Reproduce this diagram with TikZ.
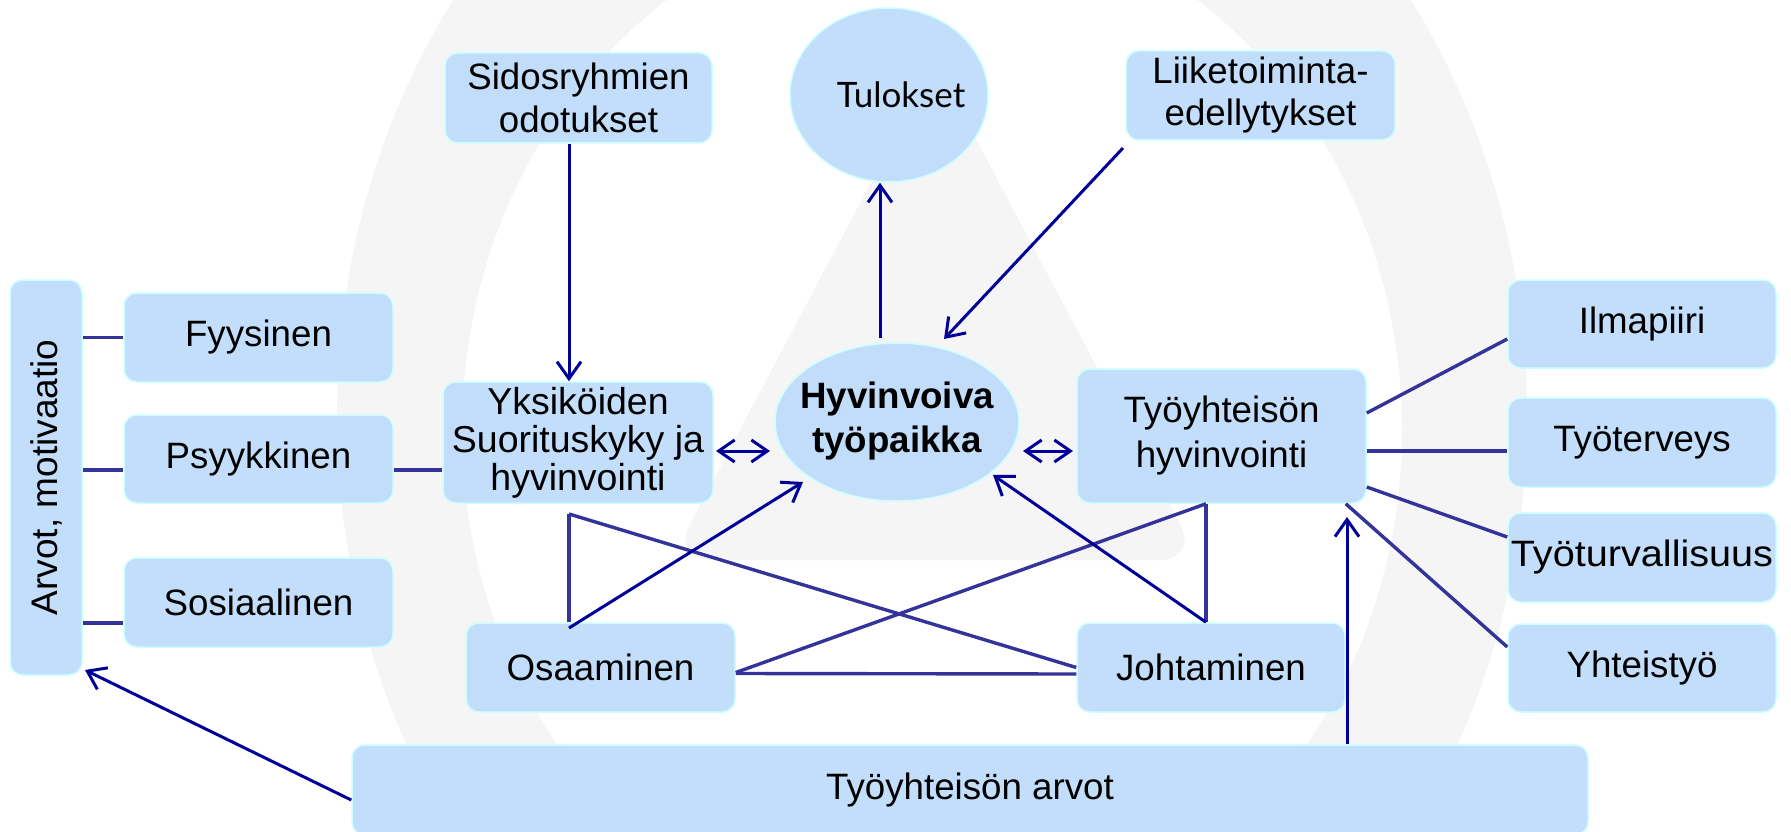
\documentclass[tikz,border=0pt]{standalone}
\usepackage{fontspec}
\setmainfont{Liberation Sans}
\newfontfamily\gillfont{Lato}
\usetikzlibrary{arrows.meta,shapes.geometric,calc}
\definecolor{boxblue}{RGB}{184,217,251}
\definecolor{boxedge}{RGB}{204,255,255}
\definecolor{navyline}{RGB}{0,0,153}
\definecolor{slateline}{RGB}{51,51,153}
\definecolor{ringgray}{RGB}{245,245,245}
\begin{document}
\begin{tikzpicture}[x=1pt,y=-1pt,
  box/.style={draw=boxedge, line width=1.5pt, fill=boxblue, fill opacity=0.85, text opacity=1,
    rounded corners=13pt, inner sep=0pt, align=center, font=\fontsize{36.7}{44}\selectfont},
  oval/.style={ellipse, draw=boxedge, line width=1.5pt, fill=boxblue, fill opacity=0.85, text opacity=1,
    inner sep=0pt, align=center, font=\fontsize{36.7}{44}\selectfont},
  link/.style={draw=slateline, line width=3.4pt},
  arr/.style={draw=navyline, line width=3pt, -{Straight Barb[length=17pt,width=24pt]}},
  darr/.style={draw=navyline, line width=3pt, {Straight Barb[length=16pt,width=22pt]}-{Straight Barb[length=16pt,width=22pt]}},
]
\path[use as bounding box] (0,0) rectangle (1791,832);
\clip (0,0) rectangle (1791,832);
\fill[white] (0,0) rectangle (1791,832);
% background watermark
\fill[ringgray, even odd rule] (932,416) ellipse [x radius=595pt, y radius=700pt]
  (932,430) ellipse [x radius=470pt, y radius=521pt];
\fill[ringgray, rounded corners=40pt] (935,62) -- (1199,560) -- (671,560) -- cycle;

% nodes
\node[box, minimum width=72pt, minimum height=395pt, font=\fontsize{37}{44}\selectfont] (arvot) at (46,477.5) {\rotatebox{90}{Arvot, motivaatio}};
\node[box, minimum width=269pt, minimum height=89pt] (fyys) at (258.5,337.5) {Fyysinen};
\node[box, minimum width=269pt, minimum height=88pt] (psyk) at (258.5,459) {Psyykkinen};
\node[box, minimum width=269pt, minimum height=89pt] (sos) at (258.5,602.5) {Sosiaalinen};
\node[box, minimum width=267pt, minimum height=90pt, font=\fontsize{36.7}{43}\selectfont] (sidos) at (578.5,98) {Sidosryhmien\\odotukset};
\node[oval, minimum width=198pt, minimum height=174pt, font=\gillfont\fontsize{35}{40}\selectfont] (tulok) at (889,95) {\makebox[0pt]{\hspace*{24pt}Tulokset}};
\node[box, minimum width=269pt, minimum height=89pt, font=\fontsize{36.7}{42}\selectfont] (liike) at (1260.5,95.5) {Liiketoiminta-\\edellytykset};
\node[box, minimum width=270pt, minimum height=121pt, font=\fontsize{37.5}{38}\selectfont] (yks) at (578,442.5) {Yksiköiden\\Suorituskyky ja\\hyvinvointi};
\node[oval, minimum width=244pt, minimum height=158pt, font=\bfseries\fontsize{36.7}{44}\selectfont] (hyv) at (897,422) {\makebox[0pt]{\begin{tabular}{@{}c@{}}Hyvinvoiva\\työpaikka\end{tabular}}};
\node[box, minimum width=289pt, minimum height=134pt, font=\fontsize{36.7}{45}\selectfont] (tyo) at (1221.5,436) {Työyhteisön\\hyvinvointi};
\node[box, minimum width=268pt, minimum height=88pt] (ilma) at (1642,324) {Ilmapiiri};
\node[box, minimum width=268pt, minimum height=89pt] (terv) at (1642,442.5) {Työterveys};
\node[box, minimum width=268pt, minimum height=89pt] (turv) at (1642,557.5) {\scalebox{1.08}[1]{Työturvallisuus}};
\node[box, minimum width=268pt, minimum height=88pt] (yht) at (1642,668) {Yhteistyö};
\node[box, minimum width=269pt, minimum height=89pt] (osaa) at (600.5,667.5) {Osaaminen};
\node[box, minimum width=268pt, minimum height=89pt] (joht) at (1211,667.5) {Johtaminen};
\node[box, minimum width=1236pt, minimum height=90pt] (tarvot) at (970,790) {Työyhteisön arvot};

% junction points
\coordinate (psykL) at ([yshift=-11pt]psyk.west);
\coordinate (psykR) at ([yshift=-11pt]psyk.east);
\coordinate (sosL) at ([yshift=-20.5pt]sos.west);
\coordinate (yksB) at (569,514);
\coordinate (osaaT) at (569,628);
\coordinate (hyvSW) at (803,482);
\coordinate (hyvSE) at (993,475);
\coordinate (hyvN) at (880,338);
\coordinate (liikeSW) at (1123,148);
\coordinate (hyvNE) at (944,339);
\coordinate (yksE) at (716,451);
\coordinate (hyvW) at (770,451);
\coordinate (hyvE) at (1023,451);
\coordinate (tyoW) at (1073,451);
\coordinate (tyoB) at ([xshift=-15.5pt]tyo.south);
\coordinate (tyoArr) at (1347,517);
\coordinate (arvotTip) at (85,670);
\coordinate (sidosB) at ([xshift=-9.5pt]sidos.south);

% left links
\draw[link] (arvot.east |- fyys.west) -- (fyys.west);
\draw[link] (arvot.east |- psykL) -- (psykL);
\draw[link] (arvot.east |- sosL) -- (sosL);
\draw[link] (psykR) -- (psykR -| yks.west);

% top arrows
\draw[arr] (sidosB) -- (sidosB |- yks.north);
\draw[arr] (hyvN) -- (hyvN |- tulok.south);
\draw[arr] (liikeSW) -- (hyvNE);
\draw[darr] (yksE) -- (hyvW);
\draw[darr] (hyvE) -- (tyoW);

% right links
\draw[link] ([yshift=23pt]tyo.east) -- ([yshift=-15pt]ilma.west);
\draw[link] ([yshift=-15pt]tyo.east) -- ([yshift=-8.5pt]terv.west);
\draw[link] ([yshift=-51pt]tyo.east) -- ([yshift=20.5pt]turv.west);
\draw[link] ([xshift=-21pt]tyo.south east) -- ([yshift=21pt]yht.west);

% middle
\draw[link] (yksB) -- (yksB |- osaa.north);
\draw[link] (yksB) -- (joht.west);
\draw[arr] (osaaT) -- (hyvSW);
\draw[link] ([yshift=-6pt]osaa.east) -- ([yshift=-6.5pt]joht.west);
\draw[link] ([yshift=-5pt]osaa.east) -- (tyoB);
\draw[link] (tyoB) -- (tyoB |- joht.north);
\draw[arr] (tyoB |- joht.north) -- (hyvSE);

% bottom arrows
\draw[arr] (tyoArr |- tarvot.north) -- (tyoArr);
\draw[arr] ([yshift=-10pt]tarvot.west) -- (arvotTip);
\end{tikzpicture}
\end{document}
